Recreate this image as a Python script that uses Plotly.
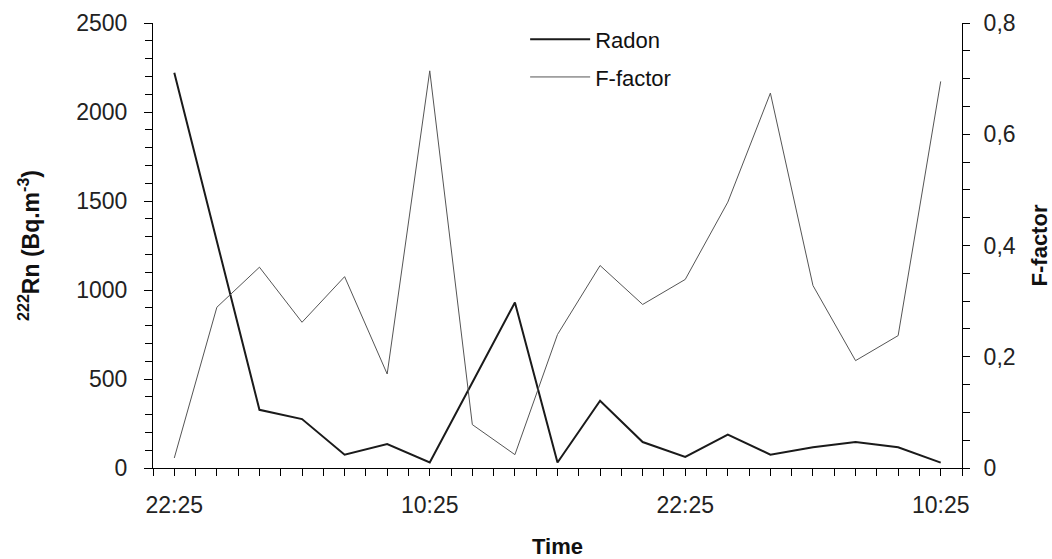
import plotly.graph_objects as go

times = [
    "2000-01-01 22:25", "2000-01-02 00:25", "2000-01-02 02:25", "2000-01-02 04:25",
    "2000-01-02 06:25", "2000-01-02 08:25", "2000-01-02 10:25", "2000-01-02 12:25",
    "2000-01-02 14:25", "2000-01-02 16:25", "2000-01-02 18:25", "2000-01-02 20:25",
    "2000-01-02 22:25", "2000-01-03 00:25", "2000-01-03 02:25", "2000-01-03 04:25",
    "2000-01-03 06:25", "2000-01-03 08:25", "2000-01-03 10:25",
]
radon = [2220, 1270, 327, 275, 75, 135, 31, 480, 930, 31, 378, 146, 62,
         187, 75, 116, 146, 116, 30]
f_factor = [0.018, 0.289, 0.361, 0.262, 0.344, 0.169, 0.714, 0.078, 0.024, 0.240,
            0.364, 0.294, 0.339, 0.478, 0.674, 0.328, 0.193, 0.238, 0.695]

FONT = "Arial, Liberation Sans, sans-serif"

fig = go.Figure()
fig.add_trace(go.Scatter(x=times, y=radon, name="Radon", mode="lines",
                         legendgroup="a",
                         line=dict(color="#1a1a1a", width=2), yaxis="y"))
fig.add_trace(go.Scatter(x=times, y=f_factor, name="F-factor", mode="lines",
                         legendgroup="b",
                         line=dict(color="#555555", width=1), yaxis="y2"))

fig.update_layout(
    width=1052, height=559,
    margin=dict(l=153, r=90, t=23, b=91),
    paper_bgcolor="white", plot_bgcolor="white",
    separators=",.",
    font=dict(family=FONT, size=23, color="#222"),
    showlegend=True,
    legend=dict(x=0.46, y=1.01, xanchor="left", yanchor="top",
                bgcolor="rgba(0,0,0,0)", font=dict(size=22, color="#111"),
                tracegroupgap=6, itemwidth=60),
    xaxis=dict(
        type="date", automargin=False,
        range=["2000-01-01 21:25", "2000-01-03 11:25"],
        tick0="2000-01-01 22:25", dtick=43200000, tickformat="%H:%M",
        ticks="outside", ticklen=7, tickwidth=1, tickcolor="black",
        minor=dict(dtick=3600000, tick0="2000-01-01 22:25", ticks="outside",
                   ticklen=7, tickwidth=1, tickcolor="black", showgrid=False),
        showline=True, linecolor="black", linewidth=1,
        showgrid=False, zeroline=False,
        ticklabelstandoff=9,
        title=dict(text="<b>Time</b>", font=dict(size=22, color="#111"), standoff=22),
    ),
    yaxis=dict(
        automargin=False,
        range=[0, 2500], tick0=0, dtick=500,
        ticks="outside", ticklen=8, tickwidth=1, tickcolor="black",
        minor=dict(dtick=100, ticks="outside", ticklen=7, tickwidth=1,
                   tickcolor="black", showgrid=False),
        showline=True, linecolor="black", linewidth=1,
        showgrid=False, zeroline=False,
        ticklabelstandoff=12,
        title=dict(text="<b><sup>222</sup>Rn (Bq.m<sup>-3</sup>)</b>",
                   font=dict(size=23, color="#111"), standoff=30),
    ),
    yaxis2=dict(
        automargin=False,
        overlaying="y", side="right",
        range=[0, 0.8], tick0=0, dtick=0.2,
        ticks="outside", ticklen=7, tickwidth=1, tickcolor="black",
        minor=dict(dtick=0.05, ticks="outside", ticklen=7, tickwidth=1,
                   tickcolor="black", showgrid=False),
        showline=True, linecolor="black", linewidth=1,
        showgrid=False, zeroline=False,
        ticklabelstandoff=9,
        title=dict(text="<b>F-factor</b>", font=dict(size=22, color="#111"), standoff=30),
    ),
)

fig.write_html("out.html")
